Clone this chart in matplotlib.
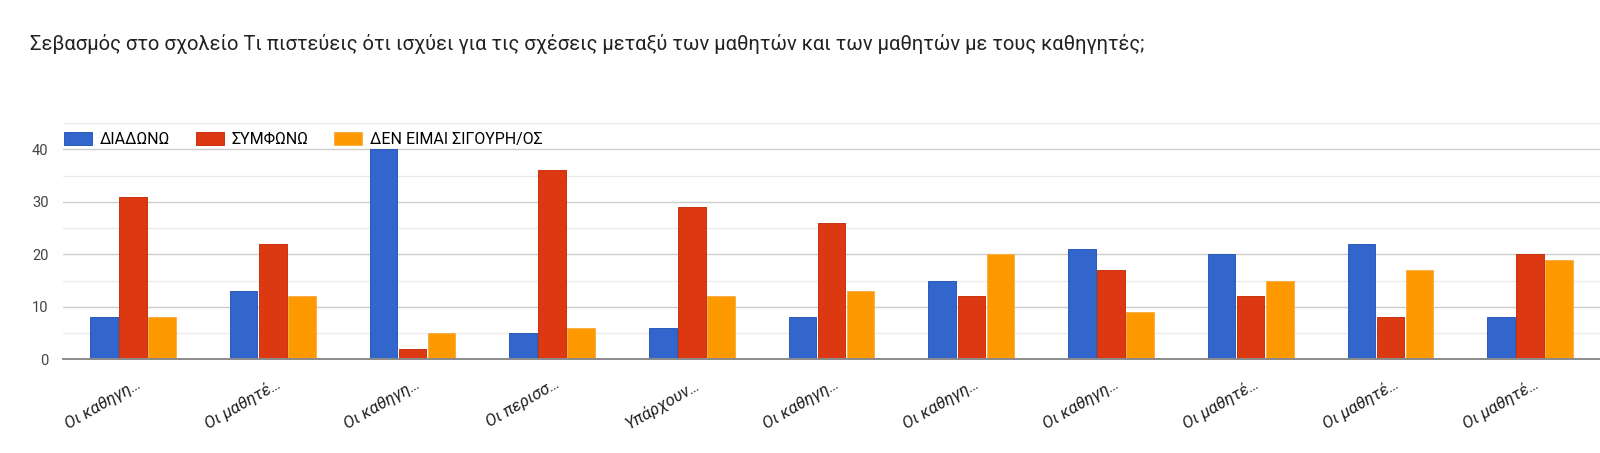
import matplotlib.pyplot as plt
import matplotlib.transforms as mtransforms
import numpy as np

plt.rcParams['font.family'] = ['Roboto', 'DejaVu Sans']

title = "Σεβασμός στο σχολείο Τι πιστεύεις ότι ισχύει για τις σχέσεις μεταξύ των μαθητών και των μαθητών με τους καθηγητές;"
categories = ["Οι καθηγη…", "Οι μαθητέ…", "Οι καθηγη…", "Οι περισσ…", "Υπάρχουν…",
              "Οι καθηγη…", "Οι καθηγη…", "Οι καθηγη…", "Οι μαθητέ…", "Οι μαθητέ…",
              "Οι μαθητέ…"]
series_names = ["ΔΙΑΔΩΝΩ", "ΣΥΜΦΩΝΩ", "ΔΕΝ ΕΙΜΑΙ ΣΙΓΟΥΡΗ/ΟΣ"]
diafono = [8, 13, 40, 5, 6, 8, 15, 21, 20, 22, 8]
symfono = [31, 22, 2, 36, 29, 26, 12, 17, 12, 8, 20]
den_eimai = [8, 12, 5, 6, 12, 13, 20, 9, 15, 17, 19]
colors = ["#3366cc", "#dc3912", "#ff9900"]
edges = ["#2a5ab8", "#c9330f", "#f7b04a"]


def main():
    fig = plt.figure(figsize=(16, 4.53), dpi=100)
    ax = fig.add_axes([0.0395, 0.2065, 0.9605, 0.5215])

    x = np.arange(len(categories))
    w = 0.197
    step = 0.208
    for k, vals in enumerate([diafono, symfono, den_eimai]):
        ax.bar(x + (k - 1) * step, vals, width=w, color=colors[k],
               edgecolor=edges[k], linewidth=0.7, label=series_names[k], zorder=3)

    ax.set_xlim(-0.5, len(categories) - 0.5)
    ax.set_ylim(0, 45)
    ax.set_yticks([0, 10, 20, 30, 40])
    ax.set_yticks([5, 15, 25, 35, 45], minor=True)
    ax.grid(axis='y', which='major', color='#cccccc', linewidth=1.0, zorder=0)
    ax.grid(axis='y', which='minor', color='#ebebeb', linewidth=1.0, zorder=0)
    ax.tick_params(axis='y', which='both', length=0, labelsize=10.5, labelcolor='#444444', pad=10.5)
    ax.tick_params(axis='x', length=0, pad=12)
    ax.set_xticks(x)
    ax.set_xticklabels(categories, rotation=30, ha='right', va='top', rotation_mode='anchor',
                       fontsize=12, style='italic', color='#222222')
    shift = mtransforms.ScaledTranslation(0.03, 0, fig.dpi_scale_trans)
    for lbl in ax.get_xticklabels():
        lbl.set_transform(lbl.get_transform() + shift)
    for s in ['top', 'right', 'left']:
        ax.spines[s].set_visible(False)
    ax.spines['bottom'].set_color('#8a8a8a')
    ax.spines['bottom'].set_linewidth(1.4)
    ax.spines['bottom'].set_zorder(4)

    ax.legend(loc='center left', bbox_to_anchor=(0.0005, 0.931), ncol=3, frameon=False,
              fontsize=11.5, handlelength=1.78, handleheight=0.8, columnspacing=1.6,
              handletextpad=0.46, borderaxespad=0, borderpad=0)

    fig.text(0.019, 0.903, title, fontsize=14.5, color='#222222', va='center')
    plt.savefig("out.png", dpi=100)


if __name__ == "__main__":
    main()
